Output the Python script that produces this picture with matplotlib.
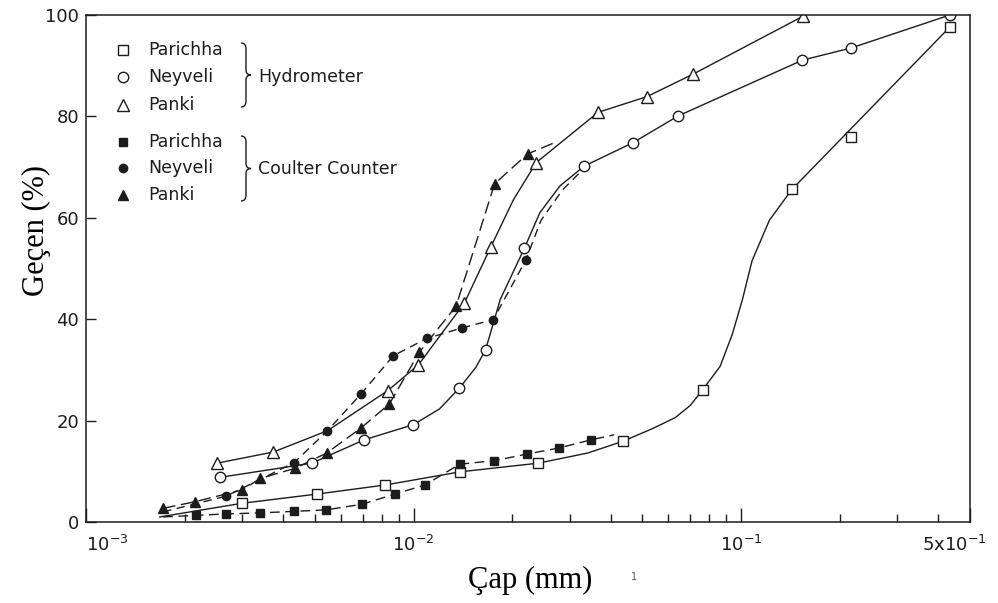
import numpy as np
import matplotlib.pyplot as plt
from matplotlib.path import Path
from matplotlib.patches import PathPatch
from matplotlib.lines import Line2D
from matplotlib.transforms import ScaledTranslation
from matplotlib.ticker import LogLocator, NullFormatter, FixedLocator

# --- data (diameter in mm, percent passing) ---
# Hydrometer, Parichha (open squares)
hyd_par_x = [3.0e-3, 5.06e-3, 8.2e-3, 1.39e-2, 2.4e-2, 4.35e-2, 7.64e-2, 1.43e-1, 2.17e-1, 4.35e-1]
hyd_par_y = [3.7, 5.5, 7.3, 9.9, 11.6, 15.9, 26.1, 65.6, 75.9, 97.7]
hyd_par_line_x = [1.68e-3, 3.0e-3, 5.06e-3, 8.2e-3, 1.39e-2, 2.4e-2, 3.4e-2, 4.35e-2, 5.4e-2,
                  6.3e-2, 7.0e-2, 7.64e-2, 8.63e-2, 9.4e-2, 1.01e-1, 1.08e-1, 1.22e-1, 1.43e-1, 4.35e-1]
hyd_par_line_y = [1.0, 3.7, 5.5, 7.3, 9.9, 11.6, 13.6, 15.9, 18.5,
                  20.6, 23.0, 26.1, 30.7, 37.0, 43.9, 51.5, 59.5, 65.6, 97.7]

# Hydrometer, Neyveli (open circles)
hyd_ney_x = [2.56e-3, 4.89e-3, 7.06e-3, 9.99e-3, 1.38e-2, 1.66e-2, 2.18e-2, 3.32e-2, 4.67e-2,
             6.43e-2, 1.54e-1, 2.17e-1, 4.34e-1]
hyd_ney_y = [8.8, 11.6, 16.2, 19.2, 26.4, 34.0, 54.0, 70.2, 74.8, 80.1, 91.1, 93.5, 100.0]
hyd_ney_line_x = [2.56e-3, 4.89e-3, 7.06e-3, 9.99e-3, 1.2e-2, 1.38e-2, 1.55e-2, 1.66e-2, 1.84e-2,
                  2.18e-2, 2.43e-2, 2.8e-2, 3.32e-2, 4.67e-2, 6.43e-2, 1.54e-1, 2.17e-1, 4.34e-1]
hyd_ney_line_y = [8.8, 11.6, 16.2, 19.2, 22.3, 26.4, 30.5, 34.0, 43.9,
                  54.0, 61.0, 66.3, 70.2, 74.8, 80.1, 91.1, 93.5, 100.0]

# Hydrometer, Panki (open triangles)
hyd_pan_x = [2.51e-3, 3.73e-3, 8.34e-3, 1.035e-2, 1.43e-2, 1.72e-2, 2.37e-2, 3.66e-2, 5.16e-2,
             7.12e-2, 1.55e-1]
hyd_pan_y = [11.6, 13.8, 25.9, 31.0, 43.2, 54.2, 70.9, 80.8, 83.9, 88.3, 99.8]
hyd_pan_line_x = [2.51e-3, 3.73e-3, 5.46e-3, 8.34e-3, 1.035e-2, 1.43e-2, 1.72e-2, 2.02e-2,
                  2.37e-2, 3.66e-2, 5.16e-2, 7.12e-2, 1.55e-1]
hyd_pan_line_y = [11.6, 13.8, 18.0, 25.9, 31.0, 43.2, 54.2, 63.6,
                  70.9, 80.8, 83.9, 88.3, 99.8]

# Coulter Counter, Parichha (filled squares)
cc_par_x = [2.16e-3, 2.68e-3, 3.41e-3, 4.33e-3, 5.42e-3, 6.96e-3, 8.76e-3, 1.084e-2, 1.383e-2,
            1.765e-2, 2.22e-2, 2.78e-2, 3.48e-2]
cc_par_y = [1.3, 1.6, 1.8, 2.1, 2.4, 3.5, 5.5, 7.3, 11.4, 12.1, 13.4, 14.6, 16.2]
cc_par_line_x = [1.72e-3] + cc_par_x + [4.1e-2]
cc_par_line_y = [1.0] + cc_par_y + [17.2]

# Coulter Counter, Neyveli (filled circles)
cc_ney_x = [2.68e-3, 4.32e-3, 5.46e-3, 6.90e-3, 8.68e-3, 1.097e-2, 1.41e-2, 1.75e-2, 2.20e-2]
cc_ney_y = [5.1, 11.7, 18.0, 25.2, 32.8, 36.2, 38.3, 39.9, 51.6]
cc_ney_line_x = [1.72e-3] + cc_ney_x + [2.45e-2, 2.85e-2, 3.32e-2]
cc_ney_line_y = [2.0] + cc_ney_y + [59.5, 65.5, 69.8]

# Coulter Counter, Panki (filled triangles)
cc_pan_x = [1.72e-3, 2.15e-3, 2.99e-3, 3.41e-3, 4.35e-3, 5.43e-3, 6.90e-3, 8.44e-3, 1.042e-2,
            1.349e-2, 1.768e-2, 2.23e-2]
cc_pan_y = [2.7, 4.0, 6.3, 8.6, 10.6, 13.6, 18.5, 23.3, 33.5, 42.6, 66.7, 72.6]
cc_pan_line_x = cc_pan_x + [2.76e-2]
cc_pan_line_y = cc_pan_y + [75.1]

x_tick_values = [1e-3, 1e-2, 1e-1, 5e-1]
x_tick_labels = ['$10^{-3}$', '$10^{-2}$', '$10^{-1}$', '5x$10^{-1}$']
y_tick_values = [0, 20, 40, 60, 80, 100]

names = ['Parichha', 'Neyveli', 'Panki']
groups = ['Hydrometer', 'Coulter Counter']

INK = '#1c1c1c'
W, H = 998, 603

fig = plt.figure(figsize=(W / 100, H / 100), dpi=100)
ax = fig.add_axes([86 / W, 81 / H, 884 / W, 507 / H])

# solid hydrometer curves, dashed coulter curves
ax.plot(hyd_par_line_x, hyd_par_line_y, '-', color=INK, lw=1.0)
ax.plot(hyd_ney_line_x, hyd_ney_line_y, '-', color=INK, lw=1.0)
ax.plot(hyd_pan_line_x, hyd_pan_line_y, '-', color=INK, lw=1.0)
ax.plot(cc_par_line_x, cc_par_line_y, '--', color=INK, lw=1.0, dashes=(7, 4))
ax.plot(cc_ney_line_x, cc_ney_line_y, '--', color=INK, lw=1.0, dashes=(6, 4))
ax.plot(cc_pan_line_x, cc_pan_line_y, '--', color=INK, lw=1.0, dashes=(9, 4))

open_kw = dict(ls='none', mfc='white', mec=INK, mew=1.0)
ax.plot(hyd_par_x, hyd_par_y, 's', ms=7.5, **open_kw)
ax.plot(hyd_ney_x, hyd_ney_y, 'o', ms=7.5, **open_kw)
ax.plot(hyd_pan_x, hyd_pan_y, '^', ms=8, **open_kw)
fill_kw = dict(ls='none', color=INK)
ax.plot(cc_par_x, cc_par_y, 's', ms=5.5, **fill_kw)
ax.plot(cc_ney_x, cc_ney_y, 'o', ms=6, **fill_kw)
ax.plot(cc_pan_x, cc_pan_y, '^', ms=7, **fill_kw)

ax.set_xscale('log')
ax.set_xlim(1e-3, 5e-1)
ax.set_ylim(0, 100)
ax.xaxis.set_major_locator(FixedLocator(x_tick_values))
ax.set_xticklabels(x_tick_labels)
ax.xaxis.set_minor_locator(LogLocator(base=10, subs=np.arange(2, 10)))
ax.xaxis.set_minor_formatter(NullFormatter())
ax.set_yticks(y_tick_values)

for s in ax.spines.values():
    s.set_linewidth(1.1)
    s.set_color(INK)
ax.tick_params(axis='x', which='major', direction='in', length=10, width=1.0,
               pad=9, labelsize=13, colors=INK)
ax.tick_params(axis='x', which='minor', direction='in', length=6, width=1.0, colors=INK)
ax.tick_params(axis='y', direction='in', length=7, width=1.0, pad=5,
               labelsize=13, colors=INK)
xlabels = ax.get_xticklabels()
xlabels[0].set_horizontalalignment('left')
xlabels[-1].set_horizontalalignment('right')
xlabels[-1].set_transform(xlabels[-1].get_transform()
                          + ScaledTranslation(17 / 100, 0, fig.dpi_scale_trans))

# axis titles
fig.text(530 / W, 1 - 580 / H, 'Çap (mm)', family='Liberation Serif', fontsize=22,
         ha='center', va='center')
fig.text(36 / W, 1 - 230 / H, 'Geçen (%)', family='Liberation Serif', fontsize=22,
         ha='center', va='center', rotation=90)
fig.text(634 / W, 1 - 577 / H, '1', fontsize=7, color='#555555', ha='center', va='center')


# hand-made legend
def px(x, y):
    return x / W, 1 - y / H


legend_rows = [50, 77, 105, 142, 168, 195]
legend_styles = [('s', 7.5, 'white'), ('o', 7.5, 'white'), ('^', 8, 'white'),
                 ('s', 5.5, INK), ('o', 6, INK), ('^', 7, INK)]
for i, (row, (mk, ms, fc)) in enumerate(zip(legend_rows, legend_styles)):
    fx, fy = px(123, row)
    fig.add_artist(Line2D([fx], [fy], marker=mk, ms=ms, mfc=fc, mec=INK, mew=1.0,
                          ls='none', transform=fig.transFigure))
    fig.text(*px(148, row), names[i % 3], fontsize=12.5, ha='left', va='center', color=INK)


def brace(x0, top, bottom, w=10):
    mid = (top + bottom) / 2
    verts = [px(x0, top), px(x0 + w / 2, top), px(x0 + w / 2, top + 6),
             px(x0 + w / 2, mid - 5), px(x0 + w / 2, mid), px(x0 + w, mid),
             px(x0 + w / 2, mid), px(x0 + w / 2, mid + 5),
             px(x0 + w / 2, bottom - 6), px(x0 + w / 2, bottom), px(x0, bottom)]
    codes = [Path.MOVETO, Path.CURVE3, Path.CURVE3, Path.LINETO, Path.CURVE3, Path.CURVE3,
             Path.CURVE3, Path.CURVE3, Path.LINETO, Path.CURVE3, Path.CURVE3]
    fig.add_artist(PathPatch(Path(verts, codes), fc='none', ec=INK, lw=1.0,
                             transform=fig.transFigure))


brace(241, 43, 107)
brace(241, 136, 201)
fig.text(*px(258, 77), groups[0], fontsize=12.5, ha='left', va='center', color=INK)
fig.text(*px(258, 169), groups[1], fontsize=12.5, ha='left', va='center', color=INK)

fig.savefig('out.png', dpi=100)
